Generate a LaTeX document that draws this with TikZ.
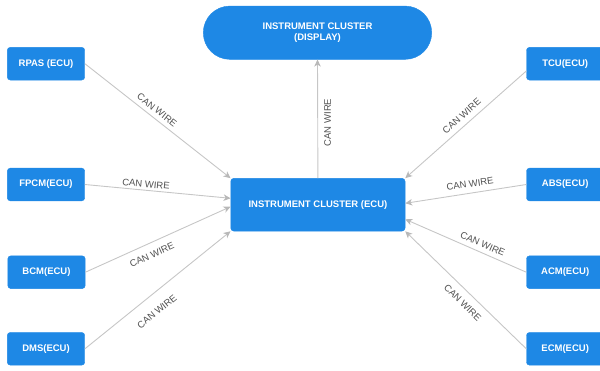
\documentclass[tikz,border=0pt]{standalone}
\usepackage{fontspec}
\setmainfont{Liberation Sans}
\usetikzlibrary{arrows.meta}
\definecolor{boxblue}{HTML}{1E88E5}
\definecolor{wire}{HTML}{C6C6C6}
\definecolor{tipgray}{HTML}{B8B8B8}
\definecolor{lbltxt}{HTML}{505050}
\begin{document}
\begin{tikzpicture}[x=1pt,y=-1pt,
  ecu/.style={rectangle, rounded corners=3pt, fill=boxblue, draw=boxblue, text=white,
    font=\fontsize{9.5}{11}\selectfont\bfseries, minimum width=77.4pt, minimum height=32.7pt, inner sep=0pt},
  wirelbl/.style={font=\fontsize{9.5}{11}\selectfont, text=lbltxt, inner sep=0pt},
  wireline/.style={draw=wire, line width=0.9pt,
    -{Stealth[length=7pt,width=6.5pt,inset=2pt,color=tipgray]}}]
\useasboundingbox (0,0) rectangle (600,370);

% main nodes
\node[ecu, minimum width=228.4pt, minimum height=53.3pt, rounded corners=26.6pt, align=center]
  (disp) at (317.5,32.7) {INSTRUMENT CLUSTER\\(DISPLAY)};
\node[ecu, minimum width=174.3pt, minimum height=52.7pt] (ic) at (317.9,204.7) {INSTRUMENT CLUSTER (ECU)};

% left ECUs
\node[ecu] (rpas) at (46,63.7) {RPAS (ECU)};
\node[ecu] (fpcm) at (46,184.5) {FPCM(ECU)};
\node[ecu] (bcm) at (46.5,272.2) {BCM(ECU)};
\node[ecu] (dms) at (46,348.8) {DMS(ECU)};

% right ECUs
\node[ecu] (tcu) at (565.2,63.7) {TCU(ECU)};
\node[ecu] (abs) at (565.2,184.5) {ABS(ECU)};
\node[ecu] (acm) at (565.2,272.2) {ACM(ECU)};
\node[ecu] (ecm) at (565.2,348.8) {ECM(ECU)};

% connectors
\draw[wireline] (ic.north) -- (disp.south);
\draw[wireline] (rpas.east) -- (ic.north west);
\draw[wireline] (fpcm.east) -- ([yshift=6.4pt]ic.west);
\draw[wireline] (bcm.east) -- ([yshift=-2pt]ic.west);
\draw[wireline] (dms.east) -- (ic.south west);
\draw[wireline] ([yshift=-7.3pt]tcu.west) -- (ic.north east);
\draw[wireline] (abs.west) -- ([yshift=1.4pt]ic.east);
\draw[wireline] (acm.west) -- ([yshift=-14.6pt]ic.east);
\draw[wireline] (ecm.west) -- (ic.south east);

% labels
\node[wirelbl, rotate=90] (ldisp) at (327.7,122.5) {CAN WIRE};
\node[wirelbl, rotate=-38.2] (lrpas) at (157,110) {CAN WIRE};
\node[wirelbl, rotate=-5.4] (lfpcm) at (146,184) {CAN WIRE};
\node[wirelbl, rotate=24.3] (lbcm) at (152,255) {CAN WIRE};
\node[wirelbl, rotate=39.2] (ldms) at (157,311.7) {CAN WIRE};
\node[wirelbl, rotate=41.9] (ltcu) at (461.7,116) {CAN WIRE};
\node[wirelbl, rotate=8.8] (labs) at (470,184) {CAN WIRE};
\node[wirelbl, rotate=-23.5] (lacm) at (482.7,244) {CAN WIRE};
\node[wirelbl, rotate=-44.4] (lecm) at (462.7,302.7) {CAN WIRE};
\end{tikzpicture}
\end{document}
